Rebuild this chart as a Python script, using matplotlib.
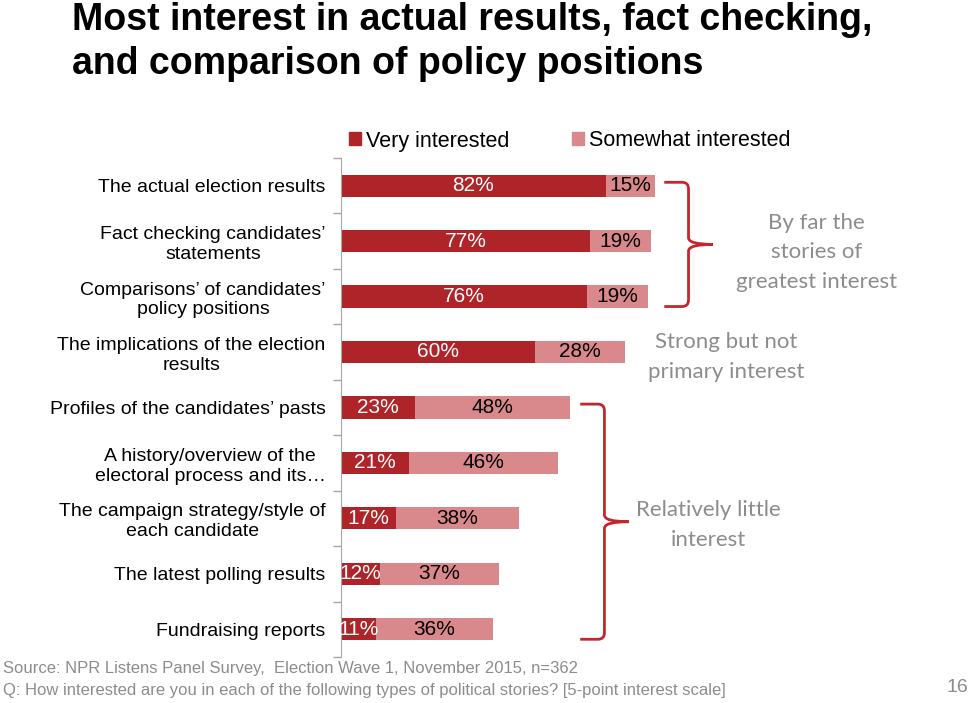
import matplotlib
matplotlib.use("Agg")
import matplotlib.pyplot as plt
from matplotlib.path import Path
from matplotlib.patches import PathPatch, Patch
import numpy as np

# data
stories = ["The actual election results",
           "Fact checking candidates’\nstatements",
           "Comparisons’ of candidates’\npolicy positions",
           "The implications of the election\nresults",
           "Profiles of the candidates’ pasts",
           "A history/overview of the\nelectoral process and its…",
           "The campaign strategy/style of\neach candidate",
           "The latest polling results",
           "Fundraising reports"]
very = [82, 77, 76, 60, 23, 21, 17, 12, 11]
somewhat = [15, 19, 19, 28, 48, 46, 38, 37, 36]

groups = [(0, 2, "By far the\nstories of\ngreatest interest"),
          (4, 8, "Relatively little\ninterest")]
middle_note = (3, "Strong but not\nprimary interest")

dark = "#AE2428"
light = "#D9888C"
brace_col = "#C4262E"
note_col = "#8C8C8C"

plt.rcParams['font.family'] = ['Liberation Sans', 'DejaVu Sans']

fig = plt.figure(figsize=(9.74, 7.03), dpi=100)
ax = fig.add_axes([0.350, 0.0654, 0.332, 0.710])

y = np.arange(len(stories))
h = 0.4
ax.barh(y, very, height=h, color=dark)
ax.barh(y, somewhat, left=very, height=h, color=light)

for i in range(len(stories)):
    ax.text(very[i] / 2, y[i], "%d%%" % very[i], ha="center", va="center",
            color="white", fontsize=15)
    ax.text(very[i] + somewhat[i] / 2, y[i], "%d%%" % somewhat[i],
            ha="center", va="center", color="black", fontsize=15)

ax.set_xlim(0, 100)
ax.set_ylim(len(stories) - 0.5, -0.5)
ax.set_yticks(y)
ax.set_yticklabels(stories, fontsize=14)
for lab in ax.get_yticklabels():
    lab.set_multialignment("center")
ax.tick_params(axis="y", which="major", length=0, pad=11)
ax.set_yticks(np.arange(-0.5, len(stories)), minor=True)
ax.tick_params(axis="y", which="minor", length=6, color="#A6A6A6", width=1)
ax.set_xticks([])
for s in ["top", "right", "bottom"]:
    ax.spines[s].set_visible(False)
ax.spines["left"].set_color("#A6A6A6")


def brace(first, last):
    tot = [very[k] + somewhat[k] for k in range(first, last + 1)]
    x0 = max(tot) + 3
    xv = x0 + 7.5
    xt = x0 + 15
    top = first - 0.06
    bot = last + 0.18
    mid = (top + bot) / 2
    rx, ry = 2.0, 0.12
    verts = [(x0, top), (xv - rx, top), (xv, top), (xv, top + ry),
             (xv, mid - ry), (xv, mid), (xt, mid),
             (xt, mid), (xv, mid), (xv, mid + ry),
             (xv, bot - ry), (xv, bot), (xv - rx, bot), (x0, bot)]
    codes = [Path.MOVETO, Path.LINETO, Path.CURVE3, Path.CURVE3,
             Path.LINETO, Path.CURVE3, Path.CURVE3,
             Path.MOVETO, Path.CURVE3, Path.CURVE3,
             Path.LINETO, Path.CURVE3, Path.CURVE3, Path.LINETO]
    ax.add_patch(PathPatch(Path(verts, codes), fill=False, ec=brace_col,
                           lw=2, clip_on=False))
    return xt, mid


note_font = ['Lato', 'DejaVu Sans']
note_kw = dict(ha="center", va="center", fontsize=16, color=note_col,
               family=note_font, linespacing=1.6, clip_on=False)
for first, last, txt in groups:
    xt, mid = brace(first, last)
    n = txt.count("\n") + 1
    # text block placed right of the brace tip
    if n == 3:
        ax.text(xt + 32, mid + 0.14, txt, **note_kw)
    else:
        ax.text(xt + 24.5, mid + 0.06, txt, **note_kw)

r, txt = middle_note
ax.text(very[r] + somewhat[r] + 31, r + 0.09, txt, **note_kw)

fig.legend(handles=[Patch(color=dark, label="Very interested"),
                    Patch(color=light, label="Somewhat interested")],
           loc="center", bbox_to_anchor=(0.585, 1 - 141 / 703), ncol=2,
           frameon=False, fontsize=15.5, handlelength=0.55, handleheight=0.55,
           handletextpad=0.25, columnspacing=2.9)

fig.text(0.074, 1 - 30 / 703, "Most interest in actual results, fact checking,",
         ha="left", va="baseline", fontsize=27, fontweight="bold")
fig.text(0.074, 1 - 74 / 703, "and comparison of policy positions",
         ha="left", va="baseline", fontsize=27, fontweight="bold")

fig.text(0.003, 1 - 668 / 703,
         "Source: NPR Listens Panel Survey,  Election Wave 1, November 2015, n=362",
         ha="left", va="center", fontsize=12, color="#8C8C8C")
fig.text(0.003, 1 - 691 / 703,
         "Q: How interested are you in each of the following types of political stories? [5-point interest scale]",
         ha="left", va="center", fontsize=12, color="#8C8C8C")
fig.text(0.983, 1 - 688 / 703, "16", ha="center", va="center",
         fontsize=14, color="#8C8C8C")

fig.savefig("out.png", dpi=100, facecolor="white")
